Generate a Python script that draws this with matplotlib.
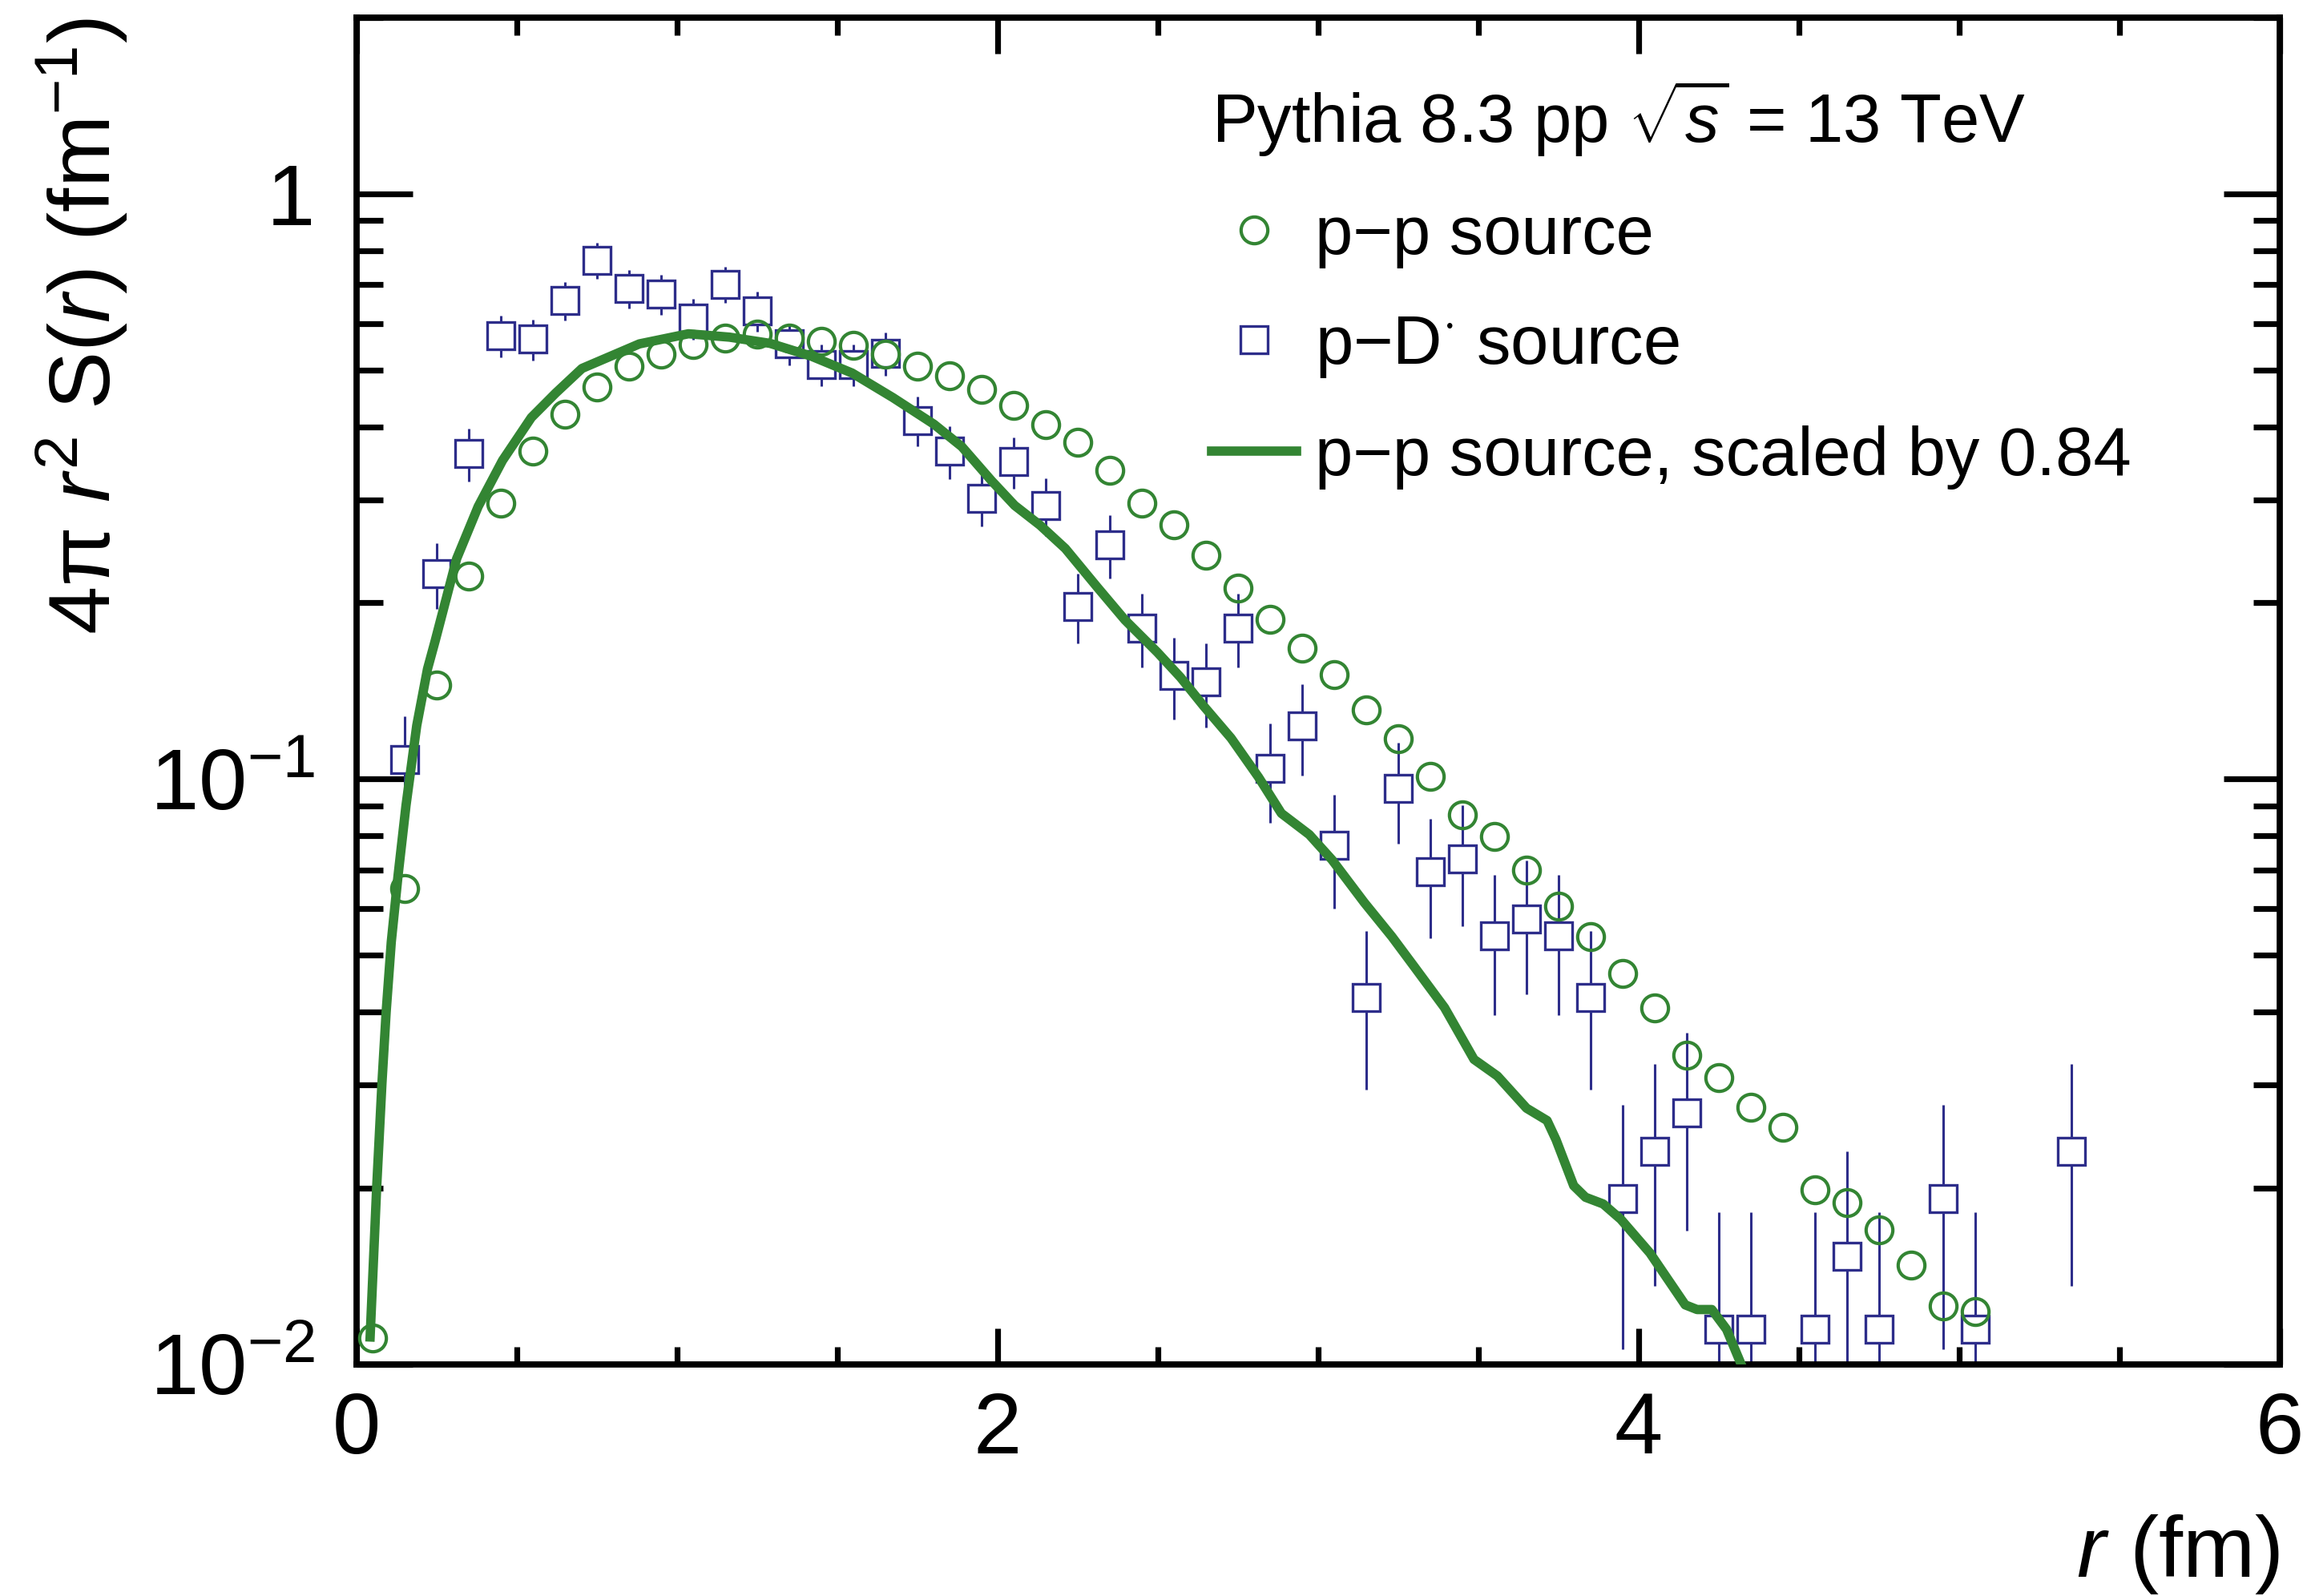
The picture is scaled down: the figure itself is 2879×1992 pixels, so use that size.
import matplotlib
matplotlib.use("Agg")
import matplotlib.pyplot as plt
from matplotlib.lines import Line2D
from matplotlib.ticker import MultipleLocator, LogLocator, NullFormatter
import numpy as np

plt.rcParams['font.family'] = ['Liberation Sans', 'DejaVu Sans']
plt.rcParams['mathtext.fontset'] = 'custom'
plt.rcParams['mathtext.rm'] = 'Liberation Sans'
plt.rcParams['mathtext.it'] = 'Liberation Sans:italic'
plt.rcParams['mathtext.bf'] = 'Liberation Sans:bold'

# p-p source (open circles), bin centres in fm
r_pp = [0.05, 0.15, 0.25, 0.35, 0.45, 0.55, 0.65, 0.75, 0.85, 0.95,
        1.05, 1.15, 1.25, 1.35, 1.45, 1.55, 1.65, 1.75, 1.85, 1.95,
        2.05, 2.15, 2.25, 2.35, 2.45, 2.55, 2.65, 2.75, 2.85, 2.95,
        3.05, 3.15, 3.25, 3.35, 3.45, 3.55, 3.65, 3.75, 3.85, 3.95,
        4.05, 4.15, 4.25, 4.35, 4.45, 4.55, 4.65, 4.75, 4.85, 4.95,
        5.05]
pp_val = [0.0111, 0.0651, 0.1446, 0.2226, 0.2959, 0.3632, 0.4200, 0.4680, 0.5074, 0.5329,
          0.5522, 0.5676, 0.5759, 0.5676, 0.5589, 0.5508, 0.5324, 0.5074, 0.4892, 0.4631,
          0.4345, 0.4031, 0.3759, 0.3368, 0.2964, 0.2716, 0.2409, 0.2123, 0.1876, 0.1671,
          0.1506, 0.1315, 0.1172, 0.1010, 0.0869, 0.0798, 0.0700, 0.0606, 0.0538, 0.0466,
          0.0406, 0.0337, 0.0309, 0.0275, 0.0254, 0.0199, 0.0189, 0.0170, 0.0148, 0.0126,
          0.0123]

# p-D- source (open squares with stat. errors)
r_pd = [0.15, 0.25, 0.35, 0.45, 0.55, 0.65, 0.75, 0.85, 0.95,
        1.05, 1.15, 1.25, 1.35, 1.45, 1.55, 1.65, 1.75, 1.85, 1.95,
        2.05, 2.15, 2.25, 2.35, 2.45, 2.55, 2.65, 2.75, 2.85, 2.95,
        3.05, 3.15, 3.25, 3.35, 3.45, 3.55, 3.65, 3.75, 3.85, 3.95,
        4.05, 4.15, 4.25, 4.35, 4.55, 4.65, 4.75, 4.95, 5.05, 5.35]
pd_val = [0.1081, 0.2243, 0.3598, 0.5723, 0.5641, 0.6577, 0.7705, 0.6890, 0.6741,
          0.6123, 0.7010, 0.6310, 0.5540, 0.5110, 0.5110, 0.5337, 0.4101, 0.3632, 0.3018,
          0.3487, 0.2935, 0.1973, 0.2513, 0.1813, 0.1504, 0.1466, 0.1813, 0.1043, 0.1234,
          0.0770, 0.0423, 0.0965, 0.0694, 0.0731, 0.0540, 0.0577, 0.0540, 0.0423, 0.0192,
          0.0231, 0.0269, 0.0115, 0.0115, 0.0115, 0.0153, 0.0115, 0.0192, 0.0115, 0.0231]
pd_err = [0.020, 0.029, 0.037, 0.047, 0.046, 0.050, 0.055, 0.052, 0.053,
          0.049, 0.050, 0.049, 0.045, 0.042, 0.042, 0.045, 0.040, 0.038, 0.032,
          0.035, 0.033, 0.027, 0.031, 0.026, 0.024, 0.024, 0.026, 0.020, 0.022,
          0.017, 0.0128, 0.019, 0.016, 0.017, 0.0145, 0.0148, 0.0145, 0.0128, 0.0086,
          0.0095, 0.0100, 0.0067, 0.0067, 0.0067, 0.0078, 0.0067, 0.0086, 0.0067, 0.0095]

# p-p source scaled by 0.84 (curve)
r_scaled = [0.042, 0.0625, 0.079, 0.092, 0.108, 0.129, 0.154, 0.1875, 0.221, 0.245,
            0.312, 0.379, 0.455, 0.545, 0.621, 0.703, 0.882, 1.035, 1.163, 1.290,
            1.418, 1.546, 1.673, 1.801, 1.888, 1.980, 2.053, 2.132, 2.211, 2.312,
            2.397, 2.498, 2.570, 2.642, 2.728, 2.814, 2.885, 2.972, 3.043, 3.144,
            3.230, 3.301, 3.394, 3.486, 3.559, 3.650, 3.714, 3.742, 3.797, 3.834,
            3.889, 3.944, 4.035, 4.145, 4.182, 4.228, 4.274, 4.320]
scaled_val = [0.01114, 0.0201, 0.0303, 0.0400, 0.0527, 0.0683, 0.0902, 0.1235, 0.1542, 0.1723,
              0.2380, 0.2921, 0.3502, 0.4147, 0.4566, 0.5030, 0.5540, 0.5765, 0.5689, 0.5551,
              0.5280, 0.4939, 0.4485, 0.4039, 0.3698, 0.3237, 0.2934, 0.2715, 0.2477, 0.2123,
              0.1870, 0.1647, 0.1493, 0.1334, 0.1175, 0.1007, 0.0874, 0.0804, 0.0728, 0.0615,
              0.0538, 0.0477, 0.0407, 0.0332, 0.0311, 0.0274, 0.0261, 0.0242, 0.0202, 0.0193,
              0.0188, 0.0177, 0.0155, 0.01264, 0.01241, 0.01241, 0.01148, 0.00999]

x_ticks = [0, 2, 4, 6]
y_ticks = [0.01, 0.1, 1]
y_tick_labels = [r'$10^{-2}$', r'$10^{-1}$', '1']

green = '#338533'
blue = '#2D2D8A'

fig = plt.figure(figsize=(14.395, 9.96), dpi=200)
ax = fig.add_axes([0.1546, 0.1451, 0.8336, 0.8439])

ax.errorbar(r_pd, pd_val, yerr=pd_err, fmt='s', ms=12.4, mfc='white', mec=blue,
            mew=1.2, ecolor=blue, elinewidth=1.1, capsize=0, zorder=2)
ax.plot(r_pp, pp_val, ls='none', marker='o', ms=12.0, mfc='none', mec=green,
        mew=1.5, zorder=3)
ax.plot(r_scaled, scaled_val, color=green, lw=4.2, zorder=4, solid_joinstyle='round')

ax.set_xlim(0, 6)
ax.set_yscale('log')
ax.set_ylim(0.01, 2.0)

ax.set_xticks(x_ticks)
ax.set_xticklabels([str(t) for t in x_ticks])
ax.xaxis.set_minor_locator(MultipleLocator(0.5))
ax.set_yticks(y_ticks)
ax.set_yticklabels(y_tick_labels)
ax.yaxis.set_minor_locator(LogLocator(base=10, subs=np.arange(2, 10)))
ax.yaxis.set_minor_formatter(NullFormatter())

for s in ax.spines.values():
    s.set_linewidth(2.8)
ax.tick_params(axis='both', which='both', direction='in', width=2.6,
               top=True, right=True, labelsize=39)
ax.tick_params(axis='x', which='major', length=16.2, pad=12)
ax.tick_params(axis='x', which='minor', length=7.9)
ax.tick_params(axis='y', which='major', length=25.2, pad=18.7)
ax.tick_params(axis='y', which='minor', length=11.9)

ax.set_xlabel(r'$r$ (fm)', fontsize=39, loc='right')
ax.xaxis.set_label_coords(1.0, -0.1576)
ax.xaxis.label.set_va('baseline')
ax.set_ylabel('4\u03c0 $r^{2}$ S($r$) (fm$^{-1}$)', fontsize=39, loc='top')
ax.yaxis.set_label_coords(-0.1425, 1.0)
ax.yaxis.label.set_va('center')

# legend keys (no error bars, as in the original)
h_pp = Line2D([], [], ls='none', marker='o', ms=12.0, mfc='none', mec=green, mew=1.5)
h_pd = Line2D([], [], ls='none', marker='s', ms=12.4, mfc='white', mec=blue, mew=1.2)
h_sc = Line2D([], [], color=green, lw=4.2)
leg = ax.legend([h_pp, h_pd, h_sc],
                ['p\u2212p source', r'p$-$D$^{\cdot}$ source', 'p\u2212p source, scaled by 0.84'],
                title=r'Pythia 8.3 pp $\sqrt{s}$ = 13 TeV',
                loc='upper left', bbox_to_anchor=(0.4446, 0.955), frameon=False,
                fontsize=30.6, title_fontsize=30.6, alignment='left',
                borderpad=0, borderaxespad=0, handlelength=1.25, handletextpad=0.27,
                labelspacing=0.67, numpoints=1)

fig.savefig('out.png', dpi=200, facecolor='white')
